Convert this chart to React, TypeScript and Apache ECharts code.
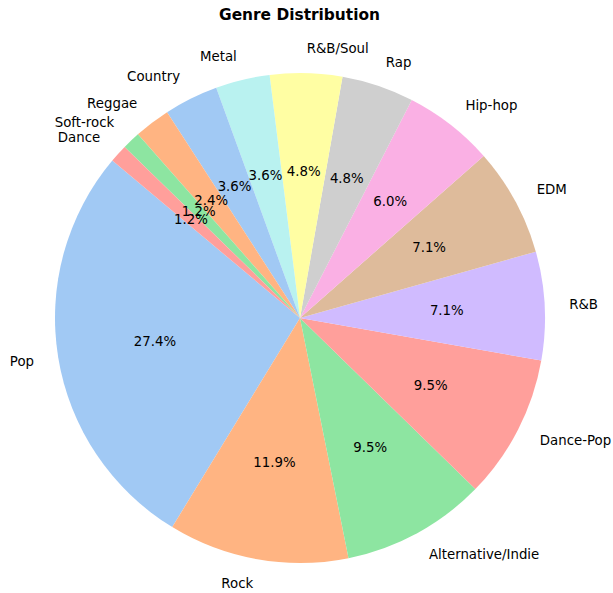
import React, { useEffect, useRef } from "react";
import * as echarts from "echarts";

const genres = [
  "Pop", "Rock", "Alternative/Indie", "Dance-Pop", "R&B", "EDM", "Hip-hop",
  "Rap", "R&B/Soul", "Metal", "Country", "Reggae", "Soft-rock", "Dance",
];
const counts = [23, 10, 8, 8, 6, 6, 5, 4, 4, 3, 3, 2, 1, 1];
const palette = [
  "#a1c9f4", "#ffb482", "#8de5a1", "#ff9f9b", "#d0bbff",
  "#debb9b", "#fab0e4", "#cfcfcf", "#fffea3", "#b9f2f0",
];
const title = "Genre Distribution";

export default function App() {
  const ref = useRef<HTMLDivElement>(null);
  useEffect(() => {
    document.body.style.margin = "0";
    if (!ref.current) return;
    const chart = echarts.init(ref.current, undefined, { renderer: "svg" });
    const total = counts.reduce((a, b) => a + b, 0);
    const R = 245;
    const data = genres.map((g, i) => ({
      name: g,
      value: counts[i],
      itemStyle: { color: palette[i % palette.length] },
    }));
    const font = "DejaVu Sans";
    chart.setOption({
      animation: false,
      title: {
        text: title,
        left: 214,
        top: 2,
        textStyle: { fontFamily: font, fontSize: 15.4, fontWeight: "bold", color: "#000" },
      },
      series: [
        {
          type: "pie",
          center: [300, 318],
          radius: [0, R],
          startAngle: 140,
          clockwise: false,
          avoidLabelOverlap: false,
          silent: true,
          data,
          itemStyle: { borderWidth: 0 },
          label: {
            show: true,
            position: "outside",
            formatter: "{b}",
            fontFamily: font,
            fontSize: 13.33,
            color: "#000",
            distanceToLabelLine: 0,
            width: 140,
            overflow: "none",
          },
          labelLine: { show: false, length: R * 0.1, length2: 0 },
          labelLayout: { hideOverlap: false },
        },
        {
          type: "pie",
          center: [300, 318],
          radius: [R * 0.6 - 3 - 10, R * 0.6 - 3 + 10],
          startAngle: 140,
          clockwise: false,
          avoidLabelOverlap: false,
          silent: true,
          data: genres.map((g, i) => ({ name: g, value: counts[i] })),
          itemStyle: { color: "rgba(0,0,0,0)", borderWidth: 0 },
          label: {
            show: true,
            position: "inside",
            formatter: (p: any) => ((p.value / total) * 100).toFixed(1) + "%",
            fontFamily: font,
            fontSize: 13.33,
            color: "#000",
          },
          labelLine: { show: false },
          labelLayout: { hideOverlap: false },
        },
      ],
    });
    return () => chart.dispose();
  }, []);
  return <div ref={ref} style={{ width: 613, height: 593 }} />;
}
